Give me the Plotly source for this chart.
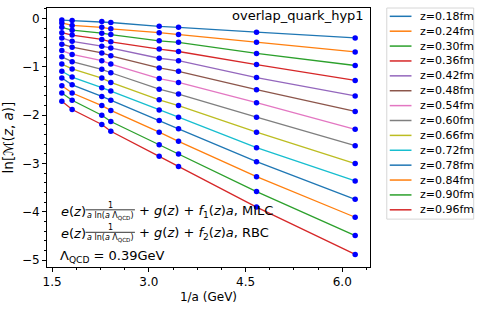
import plotly.graph_objects as go

# ---- data ----
inv_a = [1.65, 1.81, 2.27, 2.41, 3.16, 3.46, 4.67, 6.20]
z_labels = ["z=0.18fm", "z=0.24fm", "z=0.30fm", "z=0.36fm", "z=0.42fm", "z=0.48fm", "z=0.54fm",
            "z=0.60fm", "z=0.66fm", "z=0.72fm", "z=0.78fm", "z=0.84fm", "z=0.90fm", "z=0.96fm"]
z018 = [-0.03, -0.04, -0.06, -0.08, -0.16, -0.18, -0.28, -0.40]
z024 = [-0.09, -0.14, -0.18, -0.21, -0.29, -0.33, -0.49, -0.69]
z030 = [-0.18, -0.24, -0.30, -0.33, -0.46, -0.49, -0.72, -0.97]
z036 = [-0.29, -0.34, -0.43, -0.48, -0.63, -0.68, -0.95, -1.28]
z042 = [-0.40, -0.47, -0.57, -0.61, -0.82, -0.87, -1.22, -1.60]
z048 = [-0.53, -0.59, -0.71, -0.77, -1.02, -1.09, -1.47, -1.92]
z054 = [-0.66, -0.74, -0.87, -0.94, -1.24, -1.32, -1.74, -2.29]
z060 = [-0.79, -0.89, -1.05, -1.12, -1.46, -1.56, -2.04, -2.63]
z066 = [-0.94, -1.04, -1.23, -1.32, -1.68, -1.80, -2.35, -3.00]
z072 = [-1.09, -1.21, -1.43, -1.50, -1.89, -2.04, -2.67, -3.36]
z078 = [-1.23, -1.37, -1.61, -1.69, -2.11, -2.28, -2.96, -3.74]
z084 = [-1.39, -1.54, -1.80, -1.90, -2.35, -2.54, -3.27, -4.11]
z090 = [-1.54, -1.69, -2.00, -2.13, -2.61, -2.80, -3.58, -4.49]
z096 = [-1.71, -1.88, -2.19, -2.33, -2.85, -3.06, -3.90, -4.88]
series = [z018, z024, z030, z036, z042, z048, z054, z060, z066, z072, z078, z084, z090, z096]
x_ticks = [1.5, 3.0, 4.5, 6.0]
y_ticks = [0, -1, -2, -3, -4, -5]

colors = ["#1f77b4", "#ff7f0e", "#2ca02c", "#d62728", "#9467bd", "#8c564b", "#e377c2",
          "#7f7f7f", "#bcbd22", "#17becf", "#1f77b4", "#ff7f0e", "#2ca02c", "#d62728"]

W, H = 480, 309
L, R, T, B = 43, 370, 7, 272
FONT = "DejaVu Sans"

def px(x):
    return (x - L) / (R - L)

def py(y):
    return (B - y) / (B - T)

fig = go.Figure()
for vals, c, name in zip(series, colors, z_labels):
    fig.add_trace(go.Scatter(x=inv_a, y=vals, mode="lines", line=dict(color=c, width=1.3),
                             name=name, showlegend=False, hoverinfo="skip"))
for vals, name in zip(series, z_labels):
    fig.add_trace(go.Scatter(x=inv_a, y=vals, mode="markers",
                             marker=dict(color="#0000ff", size=5.5), name=name, showlegend=False))

annotations = []
shapes = []

# title inside plot
annotations.append(dict(x=px(366), y=py(15), xref="paper", yref="paper", text="overlap_quark_hyp1",
                        showarrow=False, xanchor="right", yanchor="middle",
                        font=dict(family=FONT, size=13, color="black")))

# formula lines
for yc, idx, tag in [(215, 1, "MILC"), (238, 2, "RBC")]:
    annotations.append(dict(x=px(55), y=py(yc), xref="paper", yref="paper",
                            text="<i>e</i>(<i>z</i>)", showarrow=False, xanchor="left", yanchor="middle",
                            font=dict(family=FONT, size=13, color="black")))
    annotations.append(dict(x=px(107), y=py(yc - 6), xref="paper", yref="paper",
                            text="1", showarrow=False, xanchor="center", yanchor="middle",
                            font=dict(family=FONT, size=8, color="black")))
    annotations.append(dict(x=px(107), y=py(yc + 4.5), xref="paper", yref="paper",
                            text="<i>a</i> ln(<i>a</i> Λ<sub>QCD</sub>)", showarrow=False,
                            xanchor="center", yanchor="middle",
                            font=dict(family=FONT, size=8, color="black")))
    shapes.append(dict(type="line", xref="paper", yref="paper", x0=px(82), x1=px(132),
                       y0=py(yc - 1.5), y1=py(yc - 1.5), line=dict(color="black", width=0.8)))
    annotations.append(dict(x=px(134), y=py(yc), xref="paper", yref="paper",
                            text="+ <i>g</i>(<i>z</i>) + <i>f</i><sub>%d</sub>(<i>z</i>)<i>a</i>, %s" % (idx, tag),
                            showarrow=False, xanchor="left", yanchor="middle",
                            font=dict(family=FONT, size=13, color="black")))
annotations.append(dict(x=px(54), y=py(261), xref="paper", yref="paper",
                        text="Λ<sub>QCD</sub> = 0.39GeV", showarrow=False, xanchor="left", yanchor="middle",
                        font=dict(family=FONT, size=13, color="black")))

# manual legend
shapes.append(dict(type="rect", xref="paper", yref="paper", x0=px(387), x1=px(475),
                   y0=py(223), y1=py(7), line=dict(color="#d6d6d6", width=1), fillcolor="white"))
for i, (c, name) in enumerate(zip(colors, z_labels)):
    yy = 15.5 + 15.23 * i
    shapes.append(dict(type="line", xref="paper", yref="paper", x0=px(390), x1=px(412),
                       y0=py(yy), y1=py(yy), line=dict(color=c, width=1.5)))
    annotations.append(dict(x=px(419), y=py(yy), xref="paper", yref="paper", text=name,
                            showarrow=False, xanchor="left", yanchor="middle",
                            font=dict(family=FONT, size=11, color="black")))

axis_common = dict(showline=True, linecolor="black", linewidth=1, mirror=True, showgrid=False,
                   zeroline=False, ticks="outside", ticklen=4, tickcolor="black",
                   tickfont=dict(family=FONT, size=12, color="black"))

fig.update_layout(
    width=W, height=H,
    margin=dict(l=L, r=W - R, t=T, b=H - B),
    plot_bgcolor="white", paper_bgcolor="white",
    font=dict(family=FONT, color="black"),
    xaxis=dict(range=[1.42, 6.43], tickvals=x_ticks, ticktext=["%.1f" % v for v in x_ticks],
               title=dict(text="1/a (GeV)", font=dict(family=FONT, size=12), standoff=4),
               minor=dict(ticks="outside", ticklen=2, dtick=0.375, tick0=1.5, tickcolor="black"),
               **axis_common),
    yaxis=dict(range=[-5.14, 0.22], tickvals=y_ticks,
               title=dict(text="ln[ℳ(<i>z</i>, <i>a</i>)]", font=dict(family=FONT, size=13.5), standoff=5),
               minor=dict(ticks="outside", ticklen=2, dtick=0.2, tick0=0, tickcolor="black"),
               **axis_common),
    annotations=annotations,
    shapes=shapes,
    showlegend=False,
)

fig.write_html("out.html", config={"displayModeBar": False},
               post_script="document.body.style.margin='0px';")
